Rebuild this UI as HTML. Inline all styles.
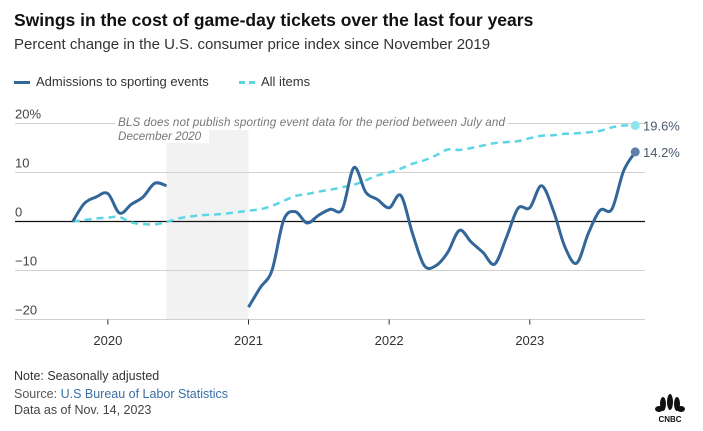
<!DOCTYPE html>
<html><head><meta charset="utf-8"><style>
body{margin:0;width:703px;height:431px;background:#fff;font-family:"Liberation Sans",sans-serif;overflow:hidden;position:relative}
.t{position:absolute;white-space:nowrap}
</style></head><body>
<div class="t" style="left:14px;top:10px;font-size:17.5px;font-weight:bold;color:#111">Swings in the cost of game-day tickets over the last four years</div>
<div class="t" style="left:14px;top:36px;font-size:15px;color:#333">Percent change in the U.S. consumer price index since November 2019</div>
<div>
<div class="t" style="left:14px;top:74px;font-size:13px;color:#333"><span style="display:inline-block;width:16px;height:3px;background:#336699;vertical-align:middle;margin-right:6px"></span>Admissions to sporting events</div>
<div class="t" style="left:239px;top:74px;font-size:13px;color:#333"><span style="display:inline-block;width:16px;border-top:3px dashed #5dd5e3;vertical-align:middle;margin-right:6px"></span>All items</div>
</div>
<svg id="chart" width="703" height="360" style="position:absolute;left:0;top:0"></svg>
<div class="t" style="left:14px;top:369px;font-size:12.5px;color:#333">Note: Seasonally adjusted</div>
<div class="t" style="left:14px;top:387px;font-size:12.5px;color:#555">Source: <span style="color:#3a6ea5">U.S Bureau of Labor Statistics</span></div>
<div class="t" style="left:14px;top:403px;font-size:12.5px;color:#444">Data as of Nov. 14, 2023</div>
<svg width="40" height="36" style="position:absolute;left:650px;top:392px">
<g fill="#111"><ellipse cx="13" cy="12" rx="3" ry="7"/><ellipse cx="20" cy="10" rx="3" ry="8"/><ellipse cx="27" cy="12" rx="3" ry="7"/><ellipse cx="9" cy="17" rx="4" ry="3"/><ellipse cx="31" cy="17" rx="4" ry="3"/></g>
<text x="20" y="30" text-anchor="middle" font-size="8" font-weight="bold" font-family="Liberation Sans,sans-serif" fill="#111">CNBC</text>
</svg>
<script>
const months=["2019-10","2019-11","2019-12","2020-01","2020-02","2020-03","2020-04","2020-05","2020-06","2020-07","2020-08","2020-09","2020-10","2020-11","2020-12","2021-01","2021-02","2021-03","2021-04","2021-05","2021-06","2021-07","2021-08","2021-09","2021-10","2021-11","2021-12","2022-01","2022-02","2022-03","2022-04","2022-05","2022-06","2022-07","2022-08","2022-09","2022-10","2022-11","2022-12","2023-01","2023-02","2023-03","2023-04","2023-05","2023-06","2023-07","2023-08","2023-09","2023-10"];
const sporting=[0,3.7,5,5.7,1.7,3.5,5,7.8,7.3,null,null,null,null,null,null,-17.5,-13.5,-10,0.3,2,-0.3,1.3,2.5,2.5,11,6,4.5,2.8,5.3,-2.5,-9,-9,-6.3,-1.8,-4.2,-6.3,-8.7,-3.3,2.7,2.8,7.3,2.3,-5.2,-8.5,-2.4,2.3,2.5,10.3,14.2];
const allItems=[0,0.3,0.6,0.8,0.9,-0.2,-0.5,-0.6,-0.1,0.6,1,1.3,1.4,1.6,1.9,2.2,2.5,3.2,4.2,5.2,5.6,6.1,6.5,7,7.5,8.4,9.4,10,10.8,11.8,12.5,13.5,14.7,14.6,15,15.5,16,16.2,16.4,17,17.5,17.6,17.9,18,18.2,18.5,19.2,19.6,19.6];
const yTicks=[20,10,0,-10,-20];
const yTickLabels=["20%","10","0","−10","−20"];
const xTicks=["2020-01","2021-01","2022-01","2023-01"];
const xTickLabels=["2020","2021","2022","2023"];
const gapStart="2020-06", gapEnd="2021-01";

const NS="http://www.w3.org/2000/svg";
const svg=document.getElementById('chart');
const x0=72.7, mw=11.72;
function xIdx(i){return x0+i*mw;}
function xM(m){return xIdx(months.indexOf(m));}
function y(v){return 221.5-v*4.9;}
function mk(tag,attrs,parent){const e=document.createElementNS(NS,tag);for(const k in attrs)e.setAttribute(k,attrs[k]);(parent||svg).appendChild(e);return e;}

const band=mk('rect',{x:xM(gapStart),y:130,width:xM(gapEnd)-xM(gapStart),height:y(-20)-130,fill:'#f2f2f2'});



yTicks.forEach((v,i)=>{
  const g=mk('line',{x1:15,x2:645,y1:y(v),y2:y(v),stroke:v===0?'#111':'#d0d0d0','stroke-width':v===0?1.2:1});
  
  
  const t=mk('text',{x:15,y:y(v)-5,'font-size':13,fill:'#444','font-family':'Liberation Sans,sans-serif'});
  t.textContent=yTickLabels[i];
  
  
});
xTicks.forEach((m,i)=>{
  const xx=xM(m);
  mk('line',{x1:xx,x2:xx,y1:y(-20),y2:y(-20)+5,stroke:'#333'});
  const t=mk('text',{x:xx,y:345,'font-size':13,fill:'#333','text-anchor':'middle','font-family':'Liberation Sans,sans-serif'});
  t.textContent=xTickLabels[i];
  
  
});

const ann=mk('g',{});


mk('rect',{x:115,y:114,width:393,height:15,fill:'#fff'},ann);
mk('rect',{x:115,y:129,width:94,height:14,fill:'#fff'},ann);
const a1=mk('text',{x:118,y:126,'font-size':11.7,'font-style':'italic',fill:'#777','font-family':'Liberation Sans,sans-serif','textLength':387},ann);
a1.textContent='BLS does not publish sporting event data for the period between July and';
const a2=mk('text',{x:118,y:140,'font-size':11.7,'font-style':'italic',fill:'#777','font-family':'Liberation Sans,sans-serif'},ann);
a2.textContent='December 2020';

function pathFor(vals){
  let d='';let seg=[];
  const segs=[];
  vals.forEach((v,i)=>{if(v===null){if(seg.length)segs.push(seg);seg=[];}else seg.push([xIdx(i),y(v)]);});
  if(seg.length)segs.push(seg);
  segs.forEach(p=>{
    d+='M'+p[0][0]+','+p[0][1];
    for(let i=0;i<p.length-1;i++){
      const a=p[i-1]||p[i],b=p[i],c=p[i+1],e=p[i+2]||c;
      const c1=[b[0]+(c[0]-a[0])/6,b[1]+(c[1]-a[1])/6],c2=[c[0]-(e[0]-b[0])/6,c[1]-(e[1]-b[1])/6];
      d+=`C${c1[0]},${c1[1]} ${c2[0]},${c2[1]} ${c[0]},${c[1]}`;
    }
  });
  return d;
}
const l2=mk('path',{d:pathFor(allItems),fill:'none',stroke:'#5dd5e3','stroke-width':2.5,'stroke-dasharray':'7,5'});


const l1=mk('path',{d:pathFor(sporting),fill:'none',stroke:'#336699','stroke-width':3,'stroke-linejoin':'round'});



const last=months.length-1;
const d2=mk('circle',{cx:xIdx(last),cy:y(allItems[last]),r:4.5,fill:'#8fe3ec'});


const d1=mk('circle',{cx:xIdx(last),cy:y(sporting[last]),r:4.5,fill:'#5f7fa8'});


const e2=mk('text',{x:643,y:y(allItems[last])+5,'font-size':13,fill:'#4a5a70','font-family':'Liberation Sans,sans-serif'});
e2.textContent=allItems[last]+'%';


const e1=mk('text',{x:643,y:y(sporting[last])+5,'font-size':13,fill:'#4a5a70','font-family':'Liberation Sans,sans-serif'});
e1.textContent=sporting[last]+'%';


</script>
</body></html>
